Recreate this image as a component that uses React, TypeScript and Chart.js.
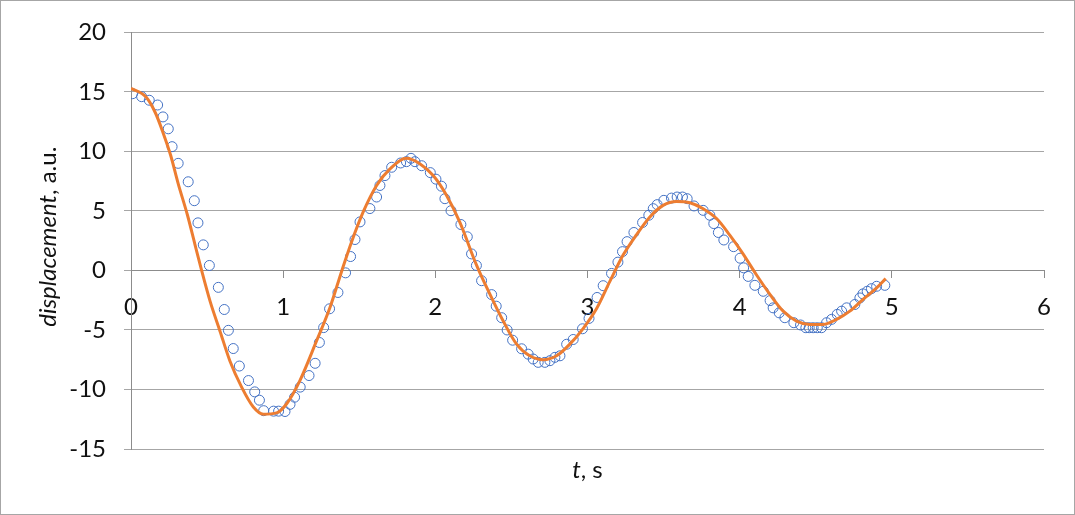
import React, { useEffect, useRef } from "react";
import { Chart, registerables } from "chart.js";

Chart.register(...registerables);

// measured displacement (blue open circles)
const measT = [
  0.01, 0.07, 0.12, 0.175, 0.21, 0.245, 0.27, 0.31, 0.376, 0.416, 0.44, 0.475,
  0.515, 0.574, 0.613, 0.64, 0.672, 0.712, 0.772, 0.813, 0.844, 0.872, 0.937, 0.97,
  1.012, 1.045, 1.075, 1.112, 1.17, 1.21, 1.238, 1.266, 1.305, 1.36, 1.41, 1.443,
  1.472, 1.505, 1.57, 1.614, 1.636, 1.669, 1.713, 1.772, 1.81, 1.84, 1.866, 1.91,
  1.967, 2.004, 2.04, 2.063, 2.103, 2.168, 2.21, 2.238, 2.27, 2.304, 2.37, 2.4,
  2.436, 2.472, 2.508, 2.567, 2.61, 2.643, 2.676, 2.72, 2.753, 2.786, 2.819, 2.863,
  2.906, 2.967, 3.01, 3.063, 3.103, 3.158, 3.2, 3.23, 3.26, 3.305, 3.362, 3.403,
  3.432, 3.458, 3.502, 3.552, 3.589, 3.624, 3.655, 3.7, 3.76, 3.804, 3.83, 3.86,
  3.896, 3.96, 4.003, 4.026, 4.056, 4.1, 4.155, 4.2, 4.22, 4.26, 4.297, 4.356,
  4.4, 4.435, 4.457, 4.483, 4.51, 4.538, 4.571, 4.604, 4.641, 4.67, 4.703, 4.757,
  4.79, 4.81, 4.838, 4.866, 4.9, 4.954,
];
const measY = [
  14.85, 14.6, 14.3, 13.9, 12.9, 11.9, 10.4, 9.0, 7.45, 5.86, 4.0, 2.15,
  0.42, -1.42, -3.28, -5.03, -6.56, -8.03, -9.25, -10.2, -10.9, -11.78, -11.82, -11.82,
  -11.85, -11.25, -10.65, -9.8, -8.83, -7.8, -6.05, -4.8, -3.22, -1.85, -0.2, 1.17,
  2.6, 4.08, 5.2, 6.17, 7.14, 7.97, 8.67, 9.03, 9.14, 9.42, 9.14, 8.8,
  8.22, 7.67, 7.08, 6.03, 5.02, 3.86, 2.83, 1.39, 0.42, -0.86, -2.03, -3.0,
  -3.97, -5.0, -5.86, -6.58, -7.03, -7.44, -7.72, -7.72, -7.58, -7.3, -7.17, -6.2,
  -5.8, -4.9, -4.03, -2.27, -1.28, -0.25, 0.7, 1.58, 2.42, 3.19, 4.03, 4.64,
  5.19, 5.53, 5.89, 6.08, 6.17, 6.17, 6.03, 5.42, 5.05, 4.64, 3.94, 3.19,
  2.56, 2.0, 1.03, 0.22, -0.5, -1.25, -1.75, -2.53, -3.14, -3.56, -3.97, -4.39,
  -4.58, -4.81, -4.81, -4.81, -4.81, -4.81, -4.39, -4.11, -3.69, -3.42, -3.14, -2.86,
  -2.31, -1.97, -1.75, -1.53, -1.33, -1.25,
];

// fitted curve (orange line)
const fitT = [
  0.0, 0.1, 0.16, 0.21, 0.26, 0.31, 0.37, 0.42, 0.464, 0.52, 0.585, 0.65,
  0.727, 0.804, 0.87, 0.957, 1.023, 1.11, 1.22, 1.307, 1.384, 1.45, 1.526, 1.614,
  1.702, 1.81, 1.9, 1.986, 2.074, 2.16, 2.27, 2.36, 2.446, 2.534, 2.62, 2.71,
  2.797, 2.884, 2.97, 3.06, 3.147, 3.235, 3.32, 3.41, 3.497, 3.585, 3.673, 3.76,
  3.848, 3.935, 4.02, 4.11, 4.2, 4.286, 4.374, 4.46, 4.549, 4.637, 4.724, 4.81,
  4.9, 4.96,
];
const fitY = [
  15.3, 14.55, 13.25, 11.6, 9.7, 7.3, 4.7, 2.2, 0.0, -2.6, -5.1, -7.6,
  -9.8, -11.47, -12.08, -11.97, -11.2, -9.25, -5.9, -3.14, -0.08, 2.42, 4.92, 7.14,
  8.53, 9.42, 8.94, 7.97, 6.3, 4.08, 0.47, -2.03, -4.25, -6.19, -7.17, -7.5,
  -7.17, -6.19, -4.9, -3.2, -0.92, 1.31, 2.97, 4.5, 5.47, 5.8, 5.69, 5.19,
  4.36, 2.97, 1.44, -0.36, -2.03, -3.42, -4.25, -4.53, -4.53, -4.11, -3.42, -2.44,
  -1.47, -0.69,
];

const xTicksMin = 0;
const xTicksMax = 6;
const yTicksMin = -15;
const yTicksMax = 20;

const Y_TITLE_ITALIC = "displacement";
const Y_TITLE_REST = ", a.u.";
const X_TITLE_ITALIC = "t";
const X_TITLE_REST = ", s";

const FONT = "Lato";
const FS = 24;

const decorPlugin = {
  id: "decor",
  afterDraw(chart: any) {
    const ctx = chart.ctx as CanvasRenderingContext2D;
    const area = chart.chartArea;
    ctx.save();
    ctx.strokeStyle = "#a6a6a6";
    ctx.lineWidth = 1;
    ctx.strokeRect(0.5, 0.5, chart.width - 1, chart.height - 1);

    const drawMixed = (it: string, rest: string, cx: number, cy: number, rot: number) => {
      ctx.save();
      ctx.translate(cx, cy);
      ctx.rotate(rot);
      ctx.fillStyle = "#111";
      ctx.textBaseline = "middle";
      ctx.textAlign = "left";
      ctx.font = `italic ${FS}px ${FONT}`;
      const w1 = ctx.measureText(it).width;
      ctx.font = `${FS}px ${FONT}`;
      const w2 = ctx.measureText(rest).width;
      const x0 = -(w1 + w2) / 2;
      ctx.font = `italic ${FS}px ${FONT}`;
      ctx.fillText(it, x0, 0);
      ctx.font = `${FS}px ${FONT}`;
      ctx.fillText(rest, x0 + w1, 0);
      ctx.restore();
    };
    drawMixed(Y_TITLE_ITALIC, Y_TITLE_REST, 48, (area.top + area.bottom) / 2 - 4, -Math.PI / 2);
    drawMixed(X_TITLE_ITALIC, X_TITLE_REST, (area.left + area.right) / 2, 470, 0);
    ctx.restore();
  },
};

export default function App() {
  const ref = useRef<HTMLCanvasElement | null>(null);
  useEffect(() => {
    if (!ref.current) return;
    const meas = measT.map((t, i) => ({ x: t, y: measY[i] }));
    const fit = fitT.map((t, i) => ({ x: t, y: fitY[i] }));
    const chart = new Chart(ref.current, {
      type: "scatter",
      data: {
        datasets: [
          {
            label: "fit",
            data: fit,
            showLine: true,
            borderColor: "#ED7D31",
            backgroundColor: "#ED7D31",
            borderWidth: 3,
            pointRadius: 0,
            cubicInterpolationMode: "monotone",
            order: 0,
          },
          {
            label: "measured",
            data: meas,
            showLine: false,
            borderColor: "#4472C4",
            backgroundColor: "rgba(0,0,0,0)",
            borderWidth: 1,
            pointRadius: 5,
            pointStyle: "circle",
            order: 1,
          },
        ],
      },
      options: {
        animation: false,
        responsive: false,
        maintainAspectRatio: false,
        layout: { padding: { left: 0, top: 29, right: 31, bottom: 66 } },
        plugins: {
          legend: { display: false },
          tooltip: { enabled: false },
          title: { display: false },
        },
        scales: {
          x: {
            type: "linear",
            position: { y: 0 } as any,
            min: xTicksMin,
            max: xTicksMax,
            ticks: {
              stepSize: 1,
              color: "#111",
              font: { family: FONT, size: FS },
              padding: 15,
              maxRotation: 0,
            },
            grid: {
              drawOnChartArea: false,
              drawTicks: true,
              tickLength: 7,
              color: "#8c8c8c",
            },
            border: { display: true, color: "#8c8c8c", width: 1 },
          },
          y: {
            type: "linear",
            position: "left",
            min: yTicksMin,
            max: yTicksMax,
            ticks: {
              stepSize: 5,
              color: "#111",
              font: { family: FONT, size: FS },
              padding: 18,
            },
            grid: {
              color: "#a6a6a6",
              tickLength: 7,
              drawTicks: true,
            },
            border: { display: true, color: "#8c8c8c", width: 1 },
            afterFit: (scale: any) => {
              scale.width = 131;
            },
          },
        },
      },
      plugins: [decorPlugin],
    });
    return () => chart.destroy();
  }, []);
  return (
    <div style={{ position: "fixed", left: 0, top: 0, width: 1075, height: 515, background: "#fff" }}>
      <canvas ref={ref} width={1075} height={515} style={{ width: 1075, height: 515, display: "block" }} />
    </div>
  );
}
